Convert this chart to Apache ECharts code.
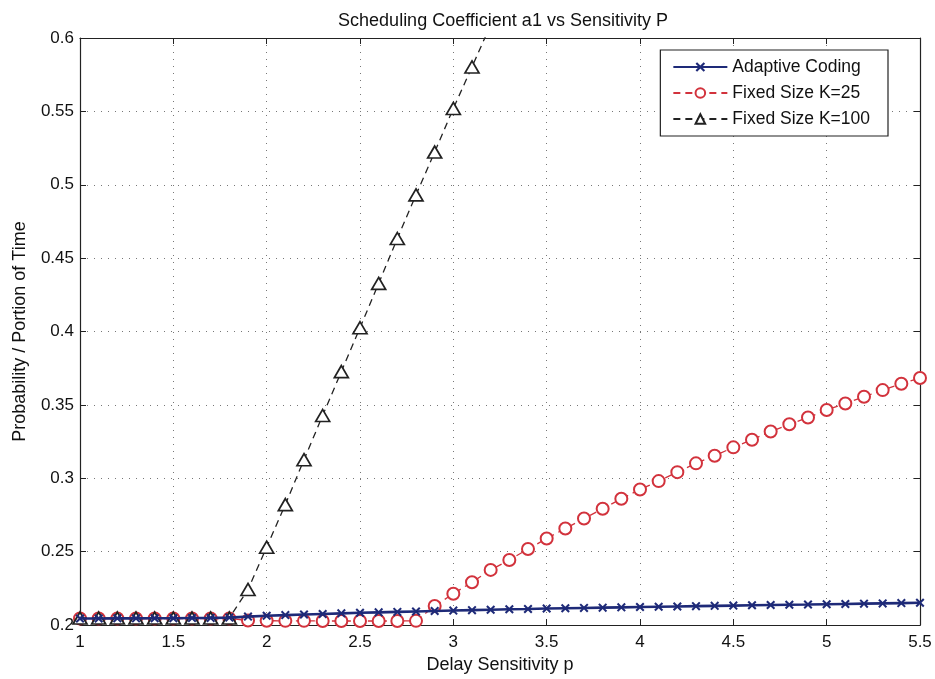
<!DOCTYPE html>
<html>
<head>
<meta charset="utf-8">
<script src="https://cdn.jsdelivr.net/npm/echarts@6/dist/echarts.min.js"></script>
<style>
html,body{margin:0;padding:0;background:#fff;}
#chart{width:935px;height:679px;}
</style>
</head>
<body>
<div id="chart"></div>
<script>
var titleText = 'Scheduling Coefficient a1 vs Sensitivity P';
var xName = 'Delay Sensitivity p';
var yName = 'Probability / Portion of Time';
var seriesNames = ['Adaptive Coding', 'Fixed Size K=25', 'Fixed Size K=100'];

var xValues = [1.0,1.1,1.2,1.3,1.4,1.5,1.6,1.7,1.8,1.9,2.0,2.1,2.2,2.3,2.4,2.5,2.6,2.7,2.8,2.9,3.0,3.1,3.2,3.3,3.4,3.5,3.6,3.7,3.8,3.9,4.0,4.1,4.2,4.3,4.4,4.5,4.6,4.7,4.8,4.9,5.0,5.1,5.2,5.3,5.4,5.5];

var adaptive = [0.2045,0.2045,0.2046,0.2046,0.2047,0.2047,0.2048,0.2049,0.2051,0.2058,0.2064,0.2068,0.2072,0.2076,0.2080,0.2084,0.2087,0.2090,0.2093,0.2096,0.2099,0.2102,0.2105,0.2108,0.2110,0.2113,0.2115,0.2117,0.2119,0.2121,0.2123,0.2125,0.2127,0.2129,0.2131,0.2133,0.2135,0.2137,0.2139,0.2140,0.2142,0.2144,0.2146,0.2148,0.2150,0.2152];

var fixed25 = [0.2045,0.2045,0.2045,0.2045,0.2045,0.2045,0.2045,0.2045,0.2045,0.2031,0.2030,0.2029,0.2029,0.2028,0.2028,0.2028,0.2028,0.2028,0.2029,0.2130,0.2214,0.2292,0.2376,0.2444,0.2518,0.2590,0.2658,0.2726,0.2793,0.2861,0.2924,0.2981,0.3042,0.3102,0.3154,0.3211,0.3263,0.3319,0.3368,0.3414,0.3465,0.3510,0.3556,0.3601,0.3644,0.3684];

var fixed100 = [0.2048,0.2048,0.2048,0.2048,0.2048,0.2048,0.2048,0.2048,0.2048,0.2243,0.2531,0.2821,0.3127,0.3428,0.3727,0.4026,0.4328,0.4634,0.4931,0.5223,0.5520,0.5803,0.6090];

function pairs(ys){ return ys.map(function(y,i){ return [xValues[i], y]; }); }

var xSymbol = 'path://M0,1.6 L1.6,0 L5,3.4 L8.4,0 L10,1.6 L6.6,5 L10,8.4 L8.4,10 L5,6.6 L1.6,10 L0,8.4 L3.4,5 Z';
var triSymbol = 'path://M5,0 L10,9 L0,9 Z';

var chart = echarts.init(document.getElementById('chart'));
var font = 'Liberation Sans, Arial, Helvetica, sans-serif';
var gridDotted = {show:true, lineStyle:{color:'#777', type:[1,6], width:1}};

chart.setOption({
  animation:false,
  backgroundColor:'#fff',
  title:{text:titleText, left:498, top:7, textAlign:'center',
    textStyle:{fontFamily:font, fontSize:18, fontWeight:'normal', color:'#111'}},
  grid:{left:80, right:15, top:38, bottom:48, containLabel:false},
  legend:{
    data:seriesNames, orient:'vertical', right:47, top:50,
    backgroundColor:'#fff', borderColor:'#222', borderWidth:1.2,
    padding:[8,18,8,12], itemGap:8, itemWidth:54, itemHeight:12,
    textStyle:{fontFamily:font, fontSize:17.5, color:'#111'}
  },
  xAxis:[{
    type:'value', min:1, max:5.5, interval:0.5, position:'bottom',
    name:xName, nameLocation:'middle', nameGap:28,
    nameTextStyle:{fontFamily:font, fontSize:18, color:'#111'},
    axisLine:{show:true, onZero:false, lineStyle:{color:'#222', width:1.2}},
    axisTick:{show:true, inside:true, length:6, lineStyle:{color:'#222'}},
    axisLabel:{fontFamily:font, fontSize:17, color:'#111', margin:9},
    splitLine:gridDotted
  },{
    type:'value', min:1, max:5.5, interval:0.5, position:'top',
    axisLine:{show:true, onZero:false, lineStyle:{color:'#222', width:1.2}},
    axisTick:{show:true, inside:true, length:6, lineStyle:{color:'#222'}},
    axisLabel:{show:false}, splitLine:{show:false}
  }],
  yAxis:[{
    type:'value', min:0.2, max:0.6, interval:0.05, position:'left',
    name:yName, nameLocation:'middle', nameGap:51, nameRotate:90,
    nameTextStyle:{fontFamily:font, fontSize:18, color:'#111'},
    axisLine:{show:true, onZero:false, lineStyle:{color:'#222', width:1.2}},
    axisTick:{show:true, inside:true, length:6, lineStyle:{color:'#222'}},
    axisLabel:{fontFamily:font, fontSize:17, color:'#111', margin:6},
    splitLine:gridDotted
  },{
    type:'value', min:0.2, max:0.6, interval:0.05, position:'right',
    axisLine:{show:true, onZero:false, lineStyle:{color:'#222', width:1.2}},
    axisTick:{show:true, inside:true, length:6, lineStyle:{color:'#222'}},
    axisLabel:{show:false}, splitLine:{show:false}
  }],
  series:[
    {
      name:seriesNames[1], type:'line', data:pairs(fixed25), z:3,
      symbol:'emptyCircle', symbolSize:12, clip:true,
      lineStyle:{color:'#d2323c', width:1.3, type:[7,5]},
      itemStyle:{color:'#d2323c', borderColor:'#d2323c', borderWidth:1.5}
    },
    {
      name:seriesNames[2], type:'line', data:pairs(fixed100), z:4,
      symbol:triSymbol, symbolSize:[14,12], clip:true,
      lineStyle:{color:'#222', width:1.3, type:[7,5]},
      itemStyle:{color:'#fff', borderColor:'#222', borderWidth:1.7}
    },
    {
      name:seriesNames[0], type:'line', data:pairs(adaptive), z:5,
      symbol:xSymbol, symbolSize:9, clip:true,
      lineStyle:{color:'#1e2a78', width:2.6},
      itemStyle:{color:'#1e2a78', borderWidth:0}
    }
  ]
});
</script>
</body>
</html>
